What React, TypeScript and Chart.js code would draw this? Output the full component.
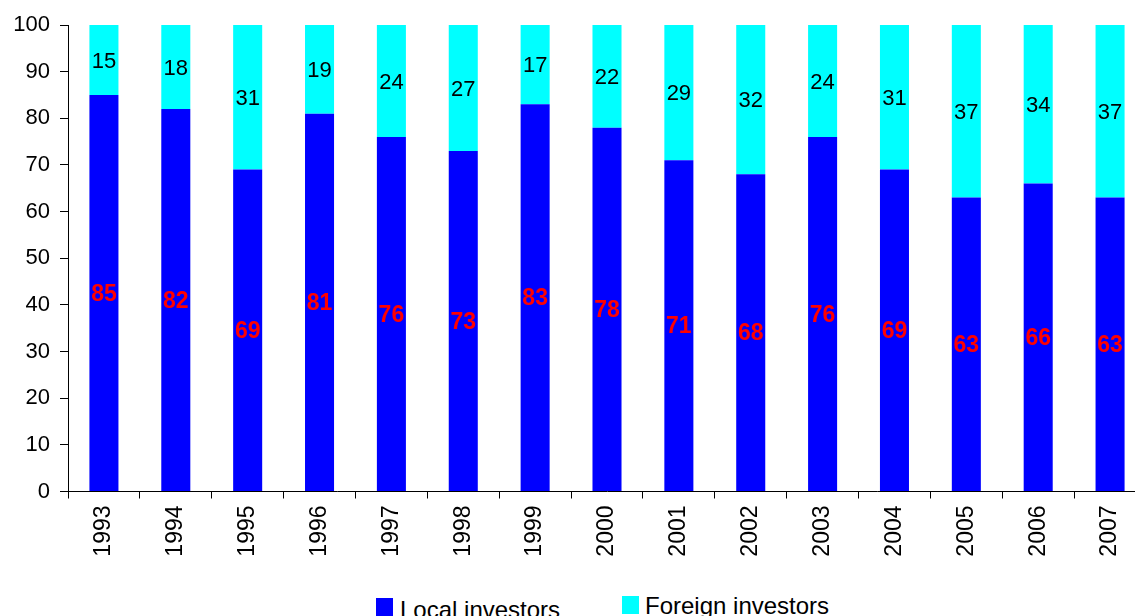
import React, { useEffect, useRef } from "react";
import { Chart, registerables } from "chart.js";

Chart.register(...registerables);

const years = ["1993", "1994", "1995", "1996", "1997", "1998", "1999", "2000", "2001", "2002", "2003", "2004", "2005", "2006", "2007"];
const localInvestors = [85, 82, 69, 81, 76, 73, 83, 78, 71, 68, 76, 69, 63, 66, 63];
const foreignInvestors = [15, 18, 31, 19, 24, 27, 17, 22, 29, 32, 24, 31, 37, 34, 37];
const seriesNames = ["Local investors", "Foreign investors"];
const seriesColors = ["#0000FF", "#00FFFF"];
const labelColors = ["#FF0000", "#000000"];
const yMin = 0;
const yMax = 100;
const yStep = 10;

const FONT = "'Liberation Sans', Arial, Helvetica, sans-serif";

const barLabels = {
  id: "barLabels",
  afterDatasetsDraw(chart: any) {
    const ctx = chart.ctx;
    ctx.save();
    ctx.textAlign = "center";
    ctx.textBaseline = "middle";
    chart.data.datasets.forEach((ds: any, di: number) => {
      const meta = chart.getDatasetMeta(di);
      ctx.fillStyle = labelColors[di];
      ctx.font = di === 0 ? `bold 23px ${FONT}` : `22px ${FONT}`;
      meta.data.forEach((el: any, i: number) => {
        const v = ds.data[i];
        const yc = (el.y + el.base) / 2;
        ctx.fillText(String(v), el.x, yc + 1.5);
      });
    });
    ctx.restore();
  },
};

export default function App() {
  const ref = useRef<HTMLCanvasElement | null>(null);

  useEffect(() => {
    if (!ref.current) return;
    const chart = new Chart(ref.current, {
      type: "bar",
      data: {
        labels: years,
        datasets: [
          {
            label: seriesNames[0],
            data: localInvestors,
            backgroundColor: seriesColors[0],
            borderWidth: 0,
            categoryPercentage: 1,
            barPercentage: 0.404,
          },
          {
            label: seriesNames[1],
            data: foreignInvestors,
            backgroundColor: seriesColors[1],
            borderWidth: 0,
            categoryPercentage: 1,
            barPercentage: 0.404,
          },
        ],
      },
      options: {
        responsive: false,
        animation: false,
        devicePixelRatio: 1,
        layout: { padding: { top: 25, left: 0, right: 0, bottom: 0 } },
        plugins: {
          legend: { display: false },
          tooltip: { enabled: false },
          title: { display: false },
        },
        scales: {
          x: {
            type: "category",
            stacked: true,
            grid: {
              offset: true,
              drawOnChartArea: false,
              drawTicks: true,
              tickLength: 7,
              color: "#000000",
              lineWidth: 1,
            },
            border: { color: "#000000", width: 1 },
            ticks: {
              color: "#000000",
              font: { family: FONT, size: 23 },
              minRotation: 90,
              maxRotation: 90,
              padding: 7,
              autoSkip: false,
            },
            afterFit(scale: any) {
              scale.height = 68.5;
            },
          },
          y: {
            stacked: true,
            min: yMin,
            max: yMax,
            grid: {
              drawOnChartArea: false,
              drawTicks: true,
              tickLength: 8,
              color: "#000000",
              lineWidth: 1,
            },
            border: { color: "#000000", width: 1 },
            ticks: {
              stepSize: yStep,
              color: "#000000",
              font: { family: FONT, size: 22 },
              padding: 10,
            },
            afterFit(scale: any) {
              scale.width = 68;
            },
          },
        },
      },
      plugins: [barLabels],
    });
    return () => chart.destroy();
  }, []);

  const legendText: React.CSSProperties = {
    position: "absolute",
    fontFamily: FONT,
    fontSize: 24,
    lineHeight: "24px",
    color: "#000",
    whiteSpace: "nowrap",
  };

  return (
    <div
      style={{
        position: "fixed",
        left: 0,
        top: 0,
        width: 1135,
        height: 616,
        overflow: "hidden",
        background: "#ffffff",
      }}
    >
      <canvas
        ref={ref}
        width={1146}
        height={560}
        style={{ position: "absolute", left: 0, top: 0, width: 1146, height: 560 }}
      />
      <div style={{ position: "absolute", left: 376, top: 598, width: 17, height: 18, background: seriesColors[0] }} />
      <div style={{ ...legendText, left: 400, top: 598 }}>{seriesNames[0]}</div>
      <div style={{ position: "absolute", left: 622, top: 596, width: 17, height: 18, background: seriesColors[1] }} />
      <div style={{ ...legendText, left: 645, top: 594 }}>{seriesNames[1]}</div>
    </div>
  );
}
